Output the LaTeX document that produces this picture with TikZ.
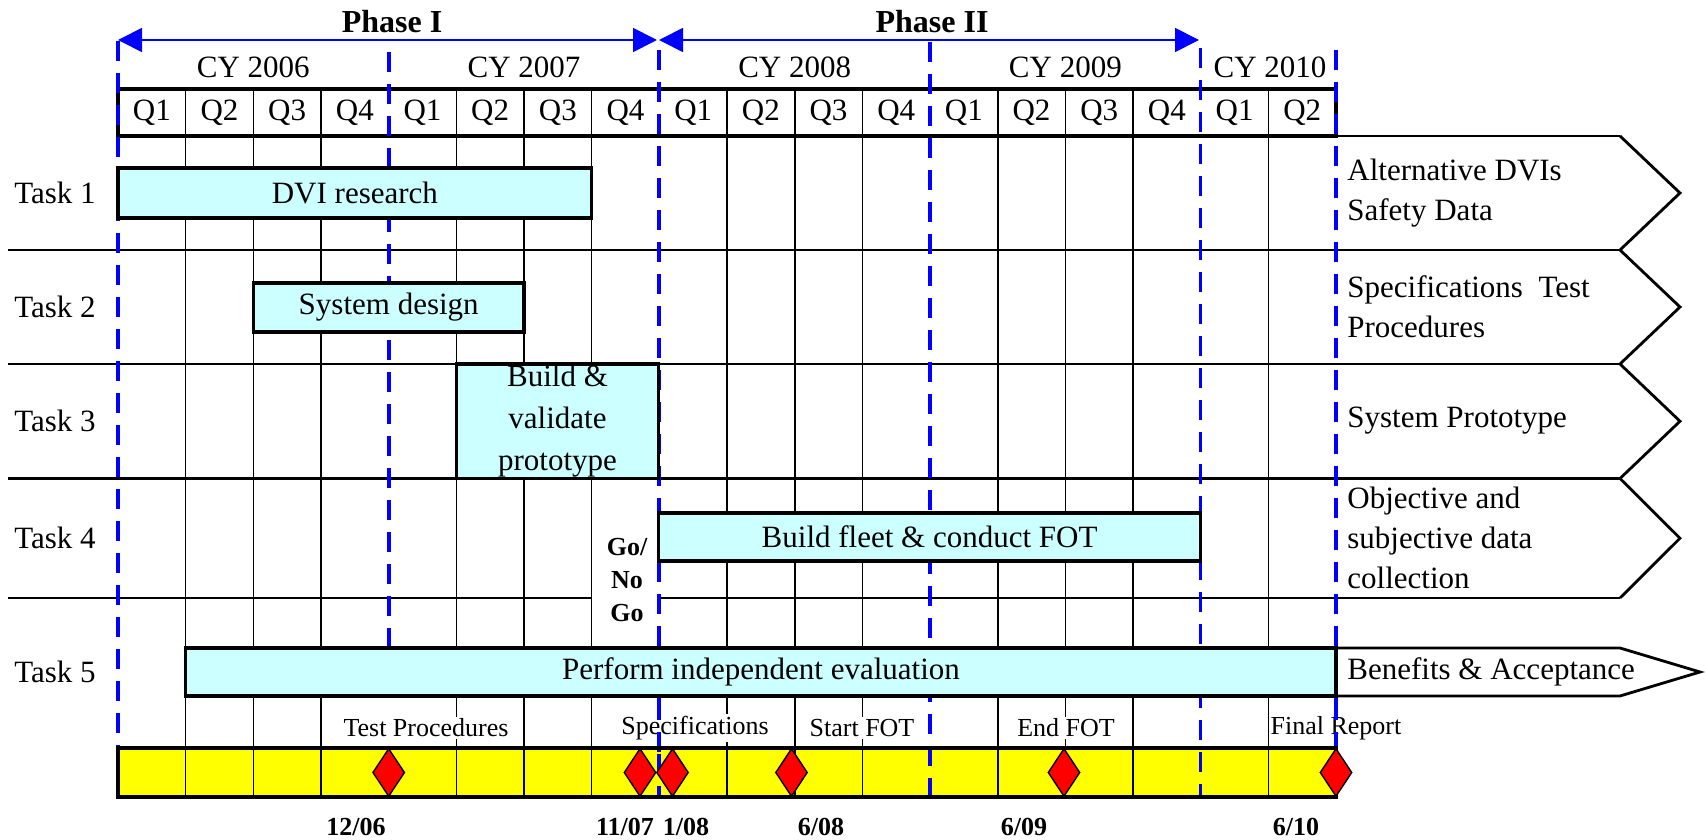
\documentclass[tikz,border=0pt]{standalone}
\usepackage{fontspec}
\setmainfont{Liberation Serif}
\usetikzlibrary{arrows.meta, shapes.geometric, calc}
\definecolor{barcyan}{HTML}{CCFFFF}
\definecolor{msyellow}{HTML}{FFFF00}
\definecolor{msred}{HTML}{FF0000}
\definecolor{phblue}{HTML}{0000FF}

\begin{document}
\begin{tikzpicture}[x=0.5pt, y=-0.5pt,
  tasktext/.style={font=\fontsize{15.5}{20}\selectfont, inner sep=1pt},
  taskbar/.style={draw=black, line width=1.6pt, fill=barcyan},
  qline/.style={line width=0.8pt},
  rowline/.style={line width=1.4pt},
  phasearrow/.style={draw=phblue, line width=0.9pt, {Triangle[length=12pt,width=12pt]}-{Triangle[length=12pt,width=12pt]}},
  yearline/.style={draw=phblue, line width=1.8pt, dash pattern=on 10pt off 6pt},
  mslabel/.style={font=\fontsize{13}{15}\selectfont, fill=white, inner sep=1pt},
  msdate/.style={font=\bfseries\fontsize{13}{15}\selectfont},
  milestone/.style={diamond, draw=black, fill=msred, line width=0.7pt, minimum width=16pt, minimum height=24pt, inner sep=0pt},
  deliv/.style={tasktext, anchor=west, align=left},
]
  \useasboundingbox (0,0) rectangle (1705,840);

  % milestone strip (fill first, grid goes over it)
  \fill[msyellow] (118,748) rectangle (1336,797);

  % quarter grid
  \foreach \i in {1,2,3,5,6,7,9,10,11,13,14,15,17}
    \draw[qline] ({118+67.67*\i},89) -- ({118+67.67*\i},797);

  % header box and quarter labels
  \draw[line width=1.6pt] (118,89) rectangle (1336,136);
  \foreach \i in {0,...,17} {
    \pgfmathtruncatemacro\qn{mod(\i,4)+1}
    \node[tasktext] (q\i) at ({118+67.67*(\i+0.5)},113) {Q\qn};
  }

  % calendar years
  \foreach \x/\yr in {253.3/2006, 524/2007, 794.7/2008, 1065.4/2009, 1270/2010}
    \node[tasktext] (cy\yr) at (\x,67.5) {CY \yr};

  % row separators
  \draw[rowline] (1336,136) -- (1620,136);
  \foreach \y in {250,364,478.5}
    \draw[rowline] (8,\y) -- (1620,\y);
  \draw[rowline] (8,598) -- (591.7,598);
  \draw[rowline] (658.7,598) -- (1620,598);

  % deliverable chevrons
  \foreach \t/\b in {136/250, 250/364, 364/478.5, 478.5/598}
    \draw[rowline] (1620,\t) -- (1680,{(\t+\b)/2}) -- (1620,\b);
  \draw[rowline] (1336,648) -- (1620,648) -- (1700,672) -- (1620,696) -- (1336,696);

  % phase boundaries
  \draw[yearline] (118,41) -- (118,797);
  \draw[yearline] (388.7,52) -- (388.7,648);
  \draw[yearline] (658.7,50) -- (658.7,797);
  \draw[yearline] (930,42) -- (930,797);
  \draw[yearline] (1200.4,48) -- (1200.4,797);
  \draw[yearline] (1336,50) -- (1336,797);

  % task labels
  \foreach \k/\y in {1/193, 2/307, 3/421, 4/538, 5/672}
    \node[tasktext] (task\k) at (55,\y) {Task \k};

  % task bars
  \draw[taskbar] (118,168) rectangle (591.7,218);
  \node[tasktext] (dvi) at (354.9,193) {DVI research};

  \draw[taskbar] (253.3,283) rectangle (524,332);
  \node[tasktext] (sysdes) at (388.7,307) {System design};

  \draw[taskbar] (456.4,364) rectangle (658.7,478.5);
  \node[tasktext, align=center, font=\fontsize{15.5}{21}\selectfont] (build) at (557.5,421) {Build \&\\validate\\prototype};

  \draw[taskbar] (658.7,513) rectangle (1200.4,561);
  \node[tasktext] (fleet) at (929.6,537) {Build fleet \& conduct FOT};

  \draw[taskbar] (185.7,648) rectangle (1336,696);
  \node[tasktext] (eval) at (761,672) {Perform independent evaluation};

  % deliverables
  \node[deliv] (del1) at (1345,193) {Alternative DVIs\\Safety Data};
  \node[deliv] (del2) at (1345,307) {Specifications~ Test\\Procedures};
  \node[deliv] (del3) at (1345,421) {System Prototype};
  \node[deliv] (del4) at (1345,538) {Objective and\\subjective data\\collection};
  \node[deliv] (del5) at (1345,672) {Benefits \& Acceptance};

  % go / no go
  \node[msdate, align=center, font=\bfseries\fontsize{13}{16.5}\selectfont] (gonogo) at (627,580) {Go/\\No\\Go};

  % milestone labels
  \node[mslabel] (mtest) at (426,728) {Test Procedures};
  \node[mslabel] (mspec) at (695,728) {Specifications};
  \node[mslabel] (mstart) at (862,728) {Start FOT};
  \node[mslabel] (mend) at (1066,728) {End FOT};
  \node[mslabel] (mfinal) at (1336,728) {Final Report};
  \draw[yearline] (658.7,700) -- (658.7,760);
  \draw[yearline] (1336,700) -- (1336,760);

  % milestone strip border and diamonds
  \draw[line width=1.6pt] (118,748) rectangle (1336,797);
  \foreach \x [count=\n] in {388.7, 640, 672.5, 791.5, 1064, 1336}
    \node[milestone] (ms\n) at (\x,772.5) {};

  % milestone dates
  \foreach \x/\d [count=\n] in {356/12\slash06, 625/11\slash07, 686/1\slash08, 821/6\slash08, 1024/6\slash09, 1296/6\slash10}
    \node[msdate] (date\n) at (\x,827) {\d};

  % phases
  \draw[phasearrow] (118,40) -- (657,40);
  \draw[phasearrow] (659,40) -- (1199,40);
  \node[font=\bfseries\fontsize{16}{18}\selectfont] (ph1) at (392,22) {Phase I};
  \node[font=\bfseries\fontsize{16}{18}\selectfont] (ph2) at (932,22) {Phase II};
\end{tikzpicture}
\end{document}
